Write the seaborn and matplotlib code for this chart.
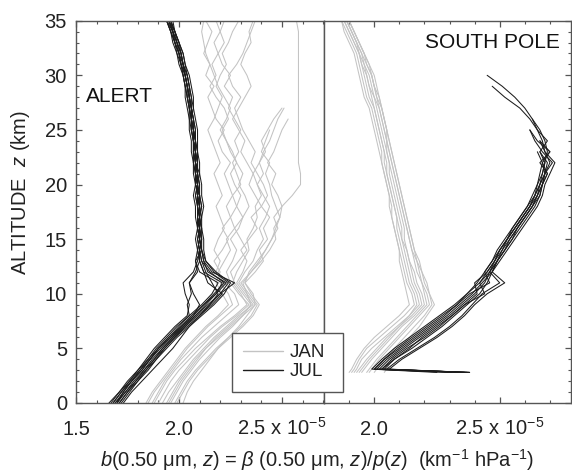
import matplotlib
matplotlib.use("Agg")
import matplotlib.pyplot as plt
import pandas as pd
import seaborn as sns
from matplotlib.lines import Line2D
from matplotlib.ticker import MultipleLocator

sns.set_style("ticks")
plt.rcParams["font.family"] = ["Liberation Sans", "DejaVu Sans"]
plt.rcParams["mathtext.fontset"] = "custom"
plt.rcParams["mathtext.rm"] = "Liberation Sans"
plt.rcParams["mathtext.it"] = "Liberation Sans:italic"
plt.rcParams["mathtext.bf"] = "Liberation Sans:bold"

# Altitude grids (km)
alert_alt = list(range(0, 36))
pole_alt = [2.8, 3.1] + list(range(4, 36))

# b(0.50 um, z) profiles in units of 1e-5 km^-1 hPa^-1, listed from the lowest level up
alert_jan = [
    [1.95, 1.98, 2.01, 2.05, 2.09, 2.13, 2.18, 2.24, 2.30, 2.35, 2.33, 2.31, 2.35, 2.39, 2.42, 2.45, 2.47, 2.49,
     2.50, 2.55, 2.59, 2.59, 2.58, 2.58, 2.58, 2.58, 2.58, 2.58, 2.58, 2.58, 2.58, 2.58, 2.58, 2.58, 2.58, 2.57],
    [1.88, 1.91, 1.94, 1.98, 2.03, 2.08, 2.14, 2.20, 2.27, 2.33, 2.30, 2.26, 2.28, 2.31, 2.34, 2.33, 2.36, 2.38,
     2.37, 2.40, 2.38, 2.41, 2.39, 2.42, 2.40, 2.43, 2.46, 2.50],
    [1.92, 1.95, 1.99, 2.03, 2.07, 2.12, 2.17, 2.23, 2.29, 2.36, 2.32, 2.28, 2.31, 2.33, 2.30, 2.34, 2.38, 2.35,
     2.40, 2.43, 2.41, 2.38, 2.35, 2.37, 2.34, 2.31, 2.29, 2.27, 2.30, 2.26, 2.24, 2.28, 2.31, 2.33, 2.35, 2.37],
    [1.85, 1.88, 1.92, 1.96, 2.00, 2.04, 2.09, 2.14, 2.20, 2.26, 2.24, 2.20, 2.19, 2.22, 2.25, 2.23, 2.27, 2.25,
     2.23, 2.26, 2.24, 2.22, 2.25, 2.21, 2.19, 2.22, 2.18, 2.16, 2.14, 2.17, 2.13, 2.15, 2.12, 2.14, 2.16, 2.13],
    [1.98, 2.01, 2.04, 2.08, 2.13, 2.18, 2.24, 2.30, 2.35, 2.38, 2.34, 2.30, 2.35, 2.40, 2.44, 2.47, 2.46, 2.49,
     2.47, 2.45, 2.44, 2.42, 2.44, 2.40, 2.42, 2.44],
    [1.90, 1.93, 1.96, 2.00, 2.05, 2.10, 2.15, 2.21, 2.28, 2.34, 2.29, 2.25, 2.23, 2.26, 2.28, 2.25, 2.29, 2.31,
     2.28, 2.30, 2.27, 2.25, 2.28, 2.25, 2.23, 2.20, 2.23, 2.25, 2.22, 2.19, 2.17, 2.15, 2.13, 2.12, 2.11, 2.12],
    [2.02, 2.04, 2.07, 2.11, 2.15, 2.19, 2.24, 2.29, 2.33, 2.37, 2.33, 2.29, 2.32, 2.36, 2.38, 2.41, 2.39, 2.42,
     2.44, 2.41, 2.38, 2.36, 2.39, 2.41, 2.44, 2.46, 2.48, 2.51],
    [1.87, 1.90, 1.93, 1.97, 2.01, 2.06, 2.11, 2.17, 2.23, 2.29, 2.27, 2.22, 2.18, 2.20, 2.17, 2.19, 2.22, 2.20,
     2.18, 2.21, 2.19, 2.17, 2.20, 2.18, 2.16, 2.14, 2.17, 2.19, 2.21, 2.18, 2.20, 2.23, 2.21, 2.24, 2.26, 2.29],
    [1.94, 1.97, 2.00, 2.04, 2.08, 2.13, 2.19, 2.25, 2.31, 2.37, 2.36, 2.32, 2.37, 2.41, 2.39, 2.43, 2.41, 2.44,
     2.40, 2.37, 2.34, 2.36, 2.33, 2.30, 2.32, 2.29, 2.26, 2.29, 2.32, 2.35, 2.33, 2.30, 2.32, 2.35, 2.34, 2.36],
    [1.96, 1.99, 2.02, 2.06, 2.10, 2.15, 2.20, 2.26, 2.31, 2.35, 2.31, 2.27, 2.25, 2.29, 2.33, 2.30, 2.27, 2.31,
     2.34, 2.32, 2.29, 2.31, 2.28, 2.26, 2.23, 2.21, 2.24, 2.22, 2.18, 2.15, 2.18, 2.16, 2.19, 2.17, 2.20, 2.22],
    [1.84, 1.87, 1.91, 1.95, 1.99, 2.03, 2.08, 2.13, 2.19, 2.24, 2.21, 2.18, 2.20, 2.17, 2.21, 2.24, 2.21, 2.25,
     2.28, 2.26, 2.30, 2.28, 2.26, 2.29, 2.27, 2.30, 2.27, 2.24, 2.26, 2.22, 2.25, 2.21, 2.19, 2.22, 2.20, 2.18],
    [1.99, 2.02, 2.05, 2.09, 2.14, 2.19, 2.25, 2.31, 2.36, 2.39, 2.35, 2.32, 2.34, 2.38, 2.42, 2.45, 2.48, 2.46,
     2.50, 2.48, 2.45, 2.47, 2.43, 2.46, 2.48, 2.50, 2.53],
]

alert_jul = [
    [1.69, 1.73, 1.77, 1.82, 1.86, 1.90, 1.96, 2.02, 2.08, 2.14, 2.20, 2.27, 2.16, 2.12, 2.11, 2.10, 2.11, 2.10,
     2.10, 2.09, 2.09, 2.09, 2.08, 2.08, 2.08, 2.07, 2.07, 2.06, 2.05, 2.04, 2.03, 2.02, 2.01, 1.99, 1.97, 1.95],
    [1.71, 1.75, 1.79, 1.84, 1.88, 1.93, 1.98, 2.04, 2.10, 2.16, 2.21, 2.14, 2.12, 2.10, 2.10, 2.09, 2.10, 2.10,
     2.09, 2.10, 2.08, 2.09, 2.08, 2.07, 2.08, 2.07, 2.06, 2.06, 2.05, 2.04, 2.03, 2.02, 2.00, 1.99, 1.97, 1.94],
    [1.67, 1.71, 1.75, 1.80, 1.84, 1.88, 1.93, 1.98, 2.04, 2.05, 2.03, 2.02, 2.07, 2.09, 2.10, 2.11, 2.10, 2.11,
     2.10, 2.09, 2.10, 2.09, 2.09, 2.08, 2.07, 2.08, 2.07, 2.06, 2.05, 2.05, 2.04, 2.02, 2.01, 2.00, 1.98, 1.96],
    [1.68, 1.72, 1.76, 1.81, 1.85, 1.90, 1.95, 2.00, 2.05, 2.04, 2.06, 2.05, 2.09, 2.08, 2.11, 2.10, 2.09, 2.10,
     2.11, 2.10, 2.09, 2.10, 2.08, 2.09, 2.08, 2.07, 2.06, 2.07, 2.06, 2.05, 2.04, 2.03, 2.02, 2.00, 1.98, 1.96],
    [1.70, 1.74, 1.78, 1.83, 1.87, 1.92, 1.97, 2.02, 2.07, 2.12, 2.17, 2.22, 2.15, 2.11, 2.10, 2.11, 2.10, 2.09,
     2.10, 2.10, 2.09, 2.08, 2.09, 2.08, 2.07, 2.07, 2.06, 2.05, 2.05, 2.04, 2.03, 2.01, 2.00, 1.98, 1.97, 1.95],
    [1.73, 1.77, 1.82, 1.87, 1.92, 1.97, 2.01, 2.05, 2.10, 2.15, 2.20, 2.24, 2.17, 2.13, 2.11, 2.10, 2.09, 2.10,
     2.09, 2.08, 2.09, 2.08, 2.07, 2.08, 2.07, 2.06, 2.06, 2.05, 2.04, 2.03, 2.02, 2.01, 1.99, 1.98, 1.96, 1.94],
    [1.66, 1.71, 1.76, 1.80, 1.85, 1.89, 1.94, 1.99, 2.05, 2.11, 2.16, 2.19, 2.10, 2.08, 2.09, 2.08, 2.09, 2.08,
     2.08, 2.07, 2.08, 2.07, 2.07, 2.06, 2.06, 2.05, 2.05, 2.04, 2.03, 2.03, 2.02, 2.00, 1.99, 1.97, 1.96, 1.94],
    [1.72, 1.76, 1.80, 1.85, 1.89, 1.94, 1.99, 2.05, 2.11, 2.17, 2.22, 2.25, 2.18, 2.13, 2.12, 2.12, 2.11, 2.11,
     2.12, 2.11, 2.11, 2.10, 2.10, 2.09, 2.09, 2.09, 2.08, 2.07, 2.07, 2.06, 2.05, 2.03, 2.02, 2.00, 1.98, 1.97],
    [1.70, 1.73, 1.77, 1.82, 1.86, 1.91, 1.96, 2.01, 2.07, 2.10, 2.07, 2.05, 2.08, 2.10, 2.09, 2.10, 2.10, 2.09,
     2.09, 2.10, 2.08, 2.09, 2.08, 2.08, 2.07, 2.07, 2.06, 2.06, 2.05, 2.04, 2.03, 2.02, 2.01, 1.99, 1.98, 1.95],
    [1.69, 1.74, 1.79, 1.83, 1.88, 1.92, 1.97, 2.03, 2.09, 2.15, 2.19, 2.16, 2.13, 2.11, 2.10, 2.09, 2.10, 2.09,
     2.09, 2.09, 2.08, 2.08, 2.08, 2.07, 2.07, 2.06, 2.05, 2.05, 2.04, 2.03, 2.02, 2.01, 2.00, 1.98, 1.96, 1.94],
    [1.71, 1.75, 1.80, 1.84, 1.89, 1.93, 1.98, 2.03, 2.08, 2.13, 2.18, 2.23, 2.14, 2.12, 2.11, 2.11, 2.11, 2.10,
     2.11, 2.10, 2.10, 2.09, 2.09, 2.09, 2.08, 2.08, 2.07, 2.06, 2.06, 2.05, 2.04, 2.02, 2.01, 1.99, 1.97, 1.96],
    [1.68, 1.72, 1.77, 1.81, 1.86, 1.90, 1.95, 2.01, 2.06, 2.12, 2.18, 2.21, 2.12, 2.10, 2.09, 2.10, 2.09, 2.09,
     2.09, 2.08, 2.09, 2.08, 2.07, 2.07, 2.07, 2.06, 2.06, 2.05, 2.04, 2.04, 2.03, 2.01, 2.00, 1.98, 1.97, 1.95],
]

pole_jan = [
    [1.90, 1.91, 1.93, 1.96, 2.00, 2.05, 2.10, 2.14, 2.13, 2.12, 2.11, 2.10, 2.10, 2.09, 2.08, 2.07, 2.06,
     2.06, 2.05, 2.04, 2.03, 2.03, 2.02, 2.01, 2.00, 1.99, 1.97, 1.96, 1.95, 1.94, 1.93, 1.91, 1.89, 1.87],
    [1.92, 1.93, 1.95, 1.99, 2.04, 2.09, 2.14, 2.18, 2.17, 2.15, 2.14, 2.13, 2.12, 2.11, 2.10, 2.09, 2.08,
     2.07, 2.06, 2.05, 2.05, 2.04, 2.03, 2.02, 2.01, 2.00, 1.98, 1.97, 1.96, 1.95, 1.94, 1.92, 1.90, 1.88],
    [1.97, 1.98, 2.01, 2.05, 2.09, 2.13, 2.17, 2.21, 2.20, 2.19, 2.18, 2.17, 2.16, 2.15, 2.14, 2.13, 2.12,
     2.11, 2.10, 2.09, 2.08, 2.07, 2.06, 2.05, 2.04, 2.03, 2.02, 2.00, 1.99, 1.98, 1.96, 1.94, 1.92, 1.90],
    [2.00, 2.01, 2.04, 2.08, 2.12, 2.16, 2.20, 2.23, 2.22, 2.20, 2.19, 2.18, 2.16, 2.15, 2.14, 2.13, 2.12,
     2.11, 2.10, 2.09, 2.08, 2.07, 2.06, 2.05, 2.04, 2.03, 2.02, 2.01, 2.00, 1.98, 1.96, 1.94, 1.92, 1.90],
    [1.93, 1.94, 1.97, 2.01, 2.05, 2.10, 2.14, 2.17, 2.16, 2.14, 2.13, 2.12, 2.11, 2.10, 2.09, 2.09, 2.08,
     2.07, 2.06, 2.05, 2.04, 2.04, 2.03, 2.02, 2.01, 2.00, 1.99, 1.98, 1.97, 1.95, 1.94, 1.92, 1.90, 1.88],
    [1.95, 1.96, 1.99, 2.03, 2.07, 2.11, 2.16, 2.20, 2.19, 2.17, 2.16, 2.14, 2.13, 2.12, 2.12, 2.11, 2.10,
     2.09, 2.08, 2.07, 2.06, 2.05, 2.05, 2.04, 2.03, 2.02, 2.00, 1.99, 1.98, 1.96, 1.95, 1.93, 1.91, 1.89],
    [2.04, 2.05, 2.07, 2.10, 2.14, 2.18, 2.21, 2.24, 2.22, 2.21, 2.19, 2.17, 2.15, 2.14, 2.13, 2.12, 2.11,
     2.10, 2.09, 2.08, 2.07, 2.06, 2.05, 2.04, 2.03, 2.02, 2.01, 2.00, 1.99, 1.97, 1.95, 1.93, 1.91, 1.89],
    [1.91, 1.92, 1.94, 1.97, 2.02, 2.07, 2.12, 2.16, 2.15, 2.13, 2.12, 2.11, 2.10, 2.09, 2.08, 2.07, 2.07,
     2.06, 2.05, 2.04, 2.03, 2.02, 2.01, 2.00, 1.99, 1.98, 1.96, 1.95, 1.94, 1.93, 1.92, 1.90, 1.88, 1.87],
    [1.98, 1.99, 2.02, 2.06, 2.10, 2.14, 2.18, 2.22, 2.21, 2.19, 2.17, 2.16, 2.15, 2.14, 2.13, 2.12, 2.11,
     2.10, 2.09, 2.08, 2.07, 2.06, 2.05, 2.05, 2.04, 2.03, 2.01, 2.00, 1.99, 1.97, 1.96, 1.94, 1.92, 1.90],
    [1.94, 1.95, 1.98, 2.02, 2.06, 2.10, 2.15, 2.19, 2.18, 2.16, 2.15, 2.14, 2.13, 2.11, 2.11, 2.10, 2.09,
     2.08, 2.07, 2.06, 2.06, 2.05, 2.04, 2.03, 2.02, 2.01, 2.00, 1.98, 1.97, 1.96, 1.94, 1.93, 1.91, 1.89],
]

pole_jul = [
    [2.38, 2.02, 2.06, 2.12, 2.18, 2.24, 2.30, 2.35, 2.40, 2.44, 2.46, 2.48, 2.51, 2.53, 2.56, 2.59, 2.62,
     2.65, 2.66, 2.67, 2.68, 2.69, 2.68, 2.66, 2.63, 2.60, 2.56, 2.51, 2.45],
    [2.36, 2.04, 2.08, 2.15, 2.21, 2.27, 2.32, 2.37, 2.42, 2.45, 2.47, 2.49, 2.52, 2.55, 2.57, 2.60, 2.63,
     2.65, 2.67, 2.68, 2.70, 2.68, 2.67, 2.65, 2.62, 2.58, 2.52, 2.47],
    [2.30, 2.00, 2.04, 2.09, 2.15, 2.21, 2.27, 2.33, 2.38, 2.46, 2.44, 2.47, 2.50, 2.53, 2.56, 2.59, 2.62,
     2.64, 2.66, 2.68, 2.71, 2.67, 2.64, 2.62],
    [2.38, 2.05, 2.10, 2.17, 2.24, 2.30, 2.35, 2.39, 2.43, 2.50, 2.46, 2.49, 2.52, 2.55, 2.58, 2.61, 2.64,
     2.66, 2.67, 2.69, 2.66, 2.70, 2.66],
    [2.33, 2.01, 2.05, 2.11, 2.17, 2.23, 2.29, 2.34, 2.39, 2.43, 2.47, 2.49, 2.51, 2.54, 2.57, 2.60, 2.63,
     2.65, 2.67, 2.68, 2.69, 2.66],
    [2.37, 2.03, 2.07, 2.13, 2.20, 2.26, 2.31, 2.36, 2.41, 2.40, 2.45, 2.48, 2.50, 2.53, 2.55, 2.58, 2.61,
     2.64, 2.65, 2.67, 2.68, 2.66, 2.69, 2.65, 2.63],
    [2.25, 1.99, 2.03, 2.08, 2.14, 2.20, 2.26, 2.32, 2.37, 2.42, 2.45, 2.48, 2.50, 2.53, 2.56, 2.59, 2.62,
     2.64, 2.66, 2.68, 2.67],
    [2.36, 2.06, 2.11, 2.18, 2.25, 2.31, 2.36, 2.40, 2.45, 2.52, 2.47, 2.50, 2.53, 2.56, 2.59, 2.62, 2.65,
     2.67, 2.68, 2.70, 2.72, 2.68, 2.66],
    [2.31, 2.00, 2.04, 2.10, 2.16, 2.22, 2.28, 2.33, 2.37, 2.41, 2.44, 2.47, 2.49, 2.52, 2.55, 2.58, 2.61,
     2.63, 2.65, 2.66, 2.67, 2.65],
    [2.38, 2.03, 2.08, 2.14, 2.19, 2.25, 2.31, 2.36, 2.44, 2.42, 2.46, 2.49, 2.52, 2.54, 2.57, 2.60, 2.63,
     2.66, 2.67, 2.69, 2.67, 2.70, 2.65, 2.62],
]

months = ["JAN", "JUL"]
month_colors = {"JAN": "#c3c3c3", "JUL": "#1c1c1c"}
sites = ["ALERT", "SOUTH POLE"]


def profiles_to_frame(site, month, profiles, alts):
    rows = []
    for i, prof in enumerate(profiles):
        for z, v in zip(alts, prof):
            rows.append({"site": site, "month": month, "profile": f"{month}-{i}", "z": z, "b": v})
    return rows


records = []
records += profiles_to_frame("ALERT", "JAN", alert_jan, alert_alt)
records += profiles_to_frame("ALERT", "JUL", alert_jul, alert_alt)
records += profiles_to_frame("SOUTH POLE", "JAN", pole_jan, pole_alt)
records += profiles_to_frame("SOUTH POLE", "JUL", pole_jul, pole_alt)
df = pd.DataFrame(records)

W, H = 572, 474
fig = plt.figure(figsize=(W / 100, H / 100), dpi=100)
bottom = 1 - 403 / H
height = (403 - 20.7) / H
ax1 = fig.add_axes([76 / W, bottom, 248 / W, height])
ax2 = fig.add_axes([324 / W, bottom, 247 / W, height])

frame_color = "#555555"
tick_size = 14.5
for ax, site in zip((ax1, ax2), sites):
    sns.lineplot(data=df[df["site"] == site], x="b", y="z", hue="month", hue_order=months,
                 units="profile", estimator=None, sort=False, palette=month_colors,
                 linewidth=0.75, ax=ax, legend=False)
    ax.set_ylim(0, 35)
    ax.set_xlabel("")
    ax.set_ylabel("")
    ax.yaxis.set_major_locator(MultipleLocator(5))
    ax.yaxis.set_minor_locator(MultipleLocator(1))
    ax.xaxis.set_minor_locator(MultipleLocator(0.1))
    for s in ax.spines.values():
        s.set_visible(True)
        s.set_color(frame_color)
        s.set_linewidth(1.0)
    ax.tick_params(which="both", direction="in", colors=frame_color, labelcolor="#222222",
                   top=True, bottom=True, labelsize=tick_size)
    ax.tick_params(which="major", length=4.5, width=0.9)
    ax.tick_params(which="minor", length=2.5, width=0.8)
    ax.tick_params(axis="x", pad=23)

ax1.set_xlim(1.5, 2.704)
ax2.set_xlim(1.8, 2.784)

ax1.set_xticks([1.5, 2.0, 2.5])
ax1.set_xticklabels(["1.5", "2.0", r"2.5 x 10$^{-5}$"])
ax2.set_xticks([2.0, 2.5])
ax2.set_xticklabels(["2.0", r"2.5 x 10$^{-5}$"])
ax1.tick_params(which="both", left=True, right=False)
ax1.tick_params(axis="y", pad=6.5)
ax2.tick_params(which="both", left=False, right=True, labelleft=False, labelright=False)

for ax in (ax1, ax2):
    for lab in ax.get_xticklabels():
        lab.set_verticalalignment("baseline")

fig.text(86 / W, 1 - 96 / H, "ALERT", fontsize=15, ha="left", va="center", color="#111111")
fig.text(560 / W, 1 - 43 / H, "SOUTH POLE", fontsize=15, ha="right", va="center", color="#111111")

fig.text(21 / W, 1 - 192 / H, r"ALTITUDE  $z$ (km)", rotation=90, fontsize=14.5,
         ha="center", va="center", color="#222222")
fig.text(317 / W, 1 - 460 / H,
         r"$b$(0.50 μm, $z$) = $\beta$ (0.50 μm, $z$)/$p$($z$)  (km$^{-1}$ hPa$^{-1}$)",
         fontsize=14.5, ha="center", va="center", color="#222222")

# Legend box straddles the two panels, so it is attached to the figure
handles = [Line2D([], [], color=month_colors[m], lw=1.0) for m in months]
leg = fig.legend(handles, months, loc="upper left",
                 bbox_to_anchor=(232 / W, 1 - 392 / H, 111 / W, 59 / H), mode="expand",
                 fontsize=13.5, frameon=True, fancybox=False, handlelength=2.1,
                 handletextpad=0.4, borderpad=0.6, labelspacing=0.1, borderaxespad=0)
leg.get_frame().set_edgecolor(frame_color)
leg.get_frame().set_linewidth(1.0)
leg.get_frame().set_alpha(1)
for t in leg.get_texts():
    t.set_color("#222222")

fig.savefig("out.png", dpi=100)
